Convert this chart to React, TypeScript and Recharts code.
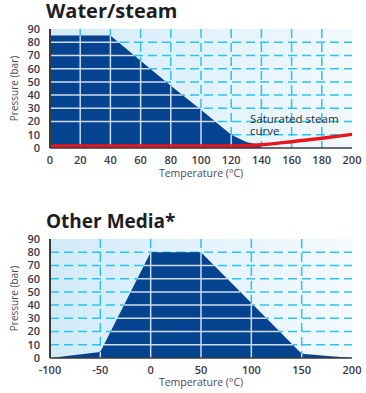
import { ComposedChart, Area, Line, XAxis, YAxis, CartesianGrid, ReferenceLine } from 'recharts'

// Water/steam limit (dark area) and saturated steam curve
const waterTemp = [0, 40, 60, 80, 100, 120, 130, 140]
const waterPressure = [85, 85, 66, 47, 29, 10, 4.5, 2]
const steamTemp = [0, 20, 40, 60, 80, 100, 120, 130, 140, 150, 160, 170, 180, 190, 200]
const steamPressure = [1.5, 1.5, 1.5, 1.5, 1.5, 1.5, 1.5, 1.8, 2.5, 3.5, 4.8, 6, 7.3, 8.8, 10.3]
const waterXTicks = [0, 20, 40, 60, 80, 100, 120, 140, 160, 180, 200]
const waterGridX = [20, 40, 60, 80, 100, 120, 140, 160, 180]

// Other media limit
const mediaTemp = [-100, -50, 0, 50, 150, 200]
const mediaPressure = [0, 4.5, 80, 80, 3.3, 0]
const mediaXTicks = [-100, -50, 0, 50, 100, 150, 200]
const mediaGridX = [-50, 0, 50, 100, 150]

const yTicks = [0, 10, 20, 30, 40, 50, 60, 70, 80, 90]
const gridY = [10, 20, 30, 40, 50, 60, 70, 80]

const DARK = '#03438f'
const CYAN = '#2cc3f0'
const INNER = '#d0dbe9'
const FONT = '"Open Sans", sans-serif'

const toRows = (xs: number[], ys: number[]) => xs.map((t, i) => ({ t, p: ys[i] }))

const valueAt = (xs: number[], ys: number[], x: number) => {
  for (let i = 0; i < xs.length - 1; i++) {
    if (x >= xs[i] && x <= xs[i + 1]) {
      const f = (x - xs[i]) / (xs[i + 1] - xs[i])
      return ys[i] + f * (ys[i + 1] - ys[i])
    }
  }
  return 0
}

// x range where the dark area is above level y
const spanAt = (xs: number[], ys: number[], y: number) => {
  const hits: number[] = []
  if (ys[0] > y) hits.push(xs[0])
  for (let i = 0; i < xs.length - 1; i++) {
    const a = ys[i], b = ys[i + 1]
    if ((a - y) * (b - y) < 0) hits.push(xs[i] + ((y - a) / (b - a)) * (xs[i + 1] - xs[i]))
  }
  if (ys[ys.length - 1] > y) hits.push(xs[xs.length - 1])
  return hits.length >= 2 ? [hits[0], hits[hits.length - 1]] : null
}

const tickStyle = { fontSize: 11, fontWeight: 600, fill: '#3b3645', fontFamily: FONT }
const axisLabelStyle = { fontSize: 10.5, fill: '#4a4a55', fontFamily: FONT }

function innerGrid(xs: number[], ys: number[], gx: number[], key: string) {
  const lines: any[] = []
  gx.forEach(v => {
    const top = valueAt(xs, ys, v)
    if (top > 0.5)
      lines.push(
        <ReferenceLine key={key + 'v' + v} segment={[{ x: v, y: 0 }, { x: v, y: top }]} stroke={INNER} strokeWidth={1.5} ifOverflow="visible" />
      )
  })
  gridY.forEach(h => {
    const s = spanAt(xs, ys, h)
    if (s)
      lines.push(
        <ReferenceLine key={key + 'h' + h} segment={[{ x: s[0], y: h }, { x: s[1], y: h }]} stroke={INNER} strokeWidth={1.5} ifOverflow="visible" />
      )
  })
  return lines
}

function Title({ text, top, size }: { text: string; top: number; size: number }) {
  return (
    <div style={{ position: 'absolute', left: 46, top, fontFamily: FONT, fontWeight: 700, fontSize: size, color: '#1e1e22', lineHeight: '22px' }}>
      {text}
    </div>
  )
}

export default function App() {
  return (
    <div style={{ position: 'absolute', left: 0, top: 0, width: 366, height: 393, background: '#fff', overflow: 'hidden' }}>
      <Title text="Water/steam" top={0} size={20} />
      <div style={{ position: 'absolute', left: 0, top: 0 }}>
        <ComposedChart width={366} height={190} margin={{ top: 29, right: 14, left: 0, bottom: 13 }}>
          <defs>
            <linearGradient id="bgTop" x1="0" y1="0" x2="1" y2="0">
              <stop offset="0%" stopColor="#d2ebf9" />
              <stop offset="100%" stopColor="#f2f9fd" />
            </linearGradient>
          </defs>
          <CartesianGrid fill="url(#bgTop)" stroke={CYAN} strokeWidth={1.5} strokeDasharray="9 5" horizontalValues={gridY} verticalValues={waterGridX} />
          <XAxis type="number" dataKey="t" domain={[0, 200]} ticks={waterXTicks} interval={0} tickLine={false} axisLine={{ stroke: '#3a3a3a', strokeWidth: 1.5 }} tick={tickStyle} tickMargin={2} height={29}
            label={{ value: 'Temperature (°C)', position: 'insideBottom', offset: 0, style: axisLabelStyle }} />
          <YAxis type="number" domain={[0, 90]} ticks={yTicks} interval={0} tickLine={false} axisLine={{ stroke: '#3a3a3a', strokeWidth: 2 }} tick={tickStyle} tickMargin={4} width={50}
            label={{ value: 'Pressure (bar)', angle: -90, position: 'insideLeft', offset: 14, style: { ...axisLabelStyle, textAnchor: 'middle', fontSize: 10 } }} />
          <Area data={toRows(waterTemp, waterPressure)} dataKey="p" type="linear" fill={DARK} fillOpacity={1} stroke="none" isAnimationActive={false} />
          {innerGrid(waterTemp, waterPressure, waterGridX, 'w')}
          <Line data={toRows(steamTemp, steamPressure)} dataKey="p" type="monotone" stroke="#e8151c" strokeWidth={3.5} dot={false} isAnimationActive={false} />
        </ComposedChart>
      </div>
      <div style={{ position: 'absolute', left: 250, top: 113, fontFamily: FONT, fontSize: 11.5, color: '#2b2b35', lineHeight: '12px' }}>
        Saturated steam<br />curve
      </div>

      <Title text="Other Media*" top={210} size={19} />
      <div style={{ position: 'absolute', left: 0, top: 190 }}>
        <ComposedChart width={366} height={203} margin={{ top: 49, right: 14, left: 0, bottom: 7 }}>
          <defs>
            <linearGradient id="bgBottom" x1="0" y1="0" x2="1" y2="0">
              <stop offset="0%" stopColor="#d2ebf9" />
              <stop offset="100%" stopColor="#f4fafe" />
            </linearGradient>
          </defs>
          <CartesianGrid fill="url(#bgBottom)" stroke={CYAN} strokeWidth={1.5} strokeDasharray="9 5" horizontalValues={gridY} verticalValues={mediaGridX} />
          <XAxis type="number" dataKey="t" domain={[-100, 200]} ticks={mediaXTicks} interval={0} tickLine={false} axisLine={{ stroke: '#3a3a3a', strokeWidth: 1.5 }} tick={tickStyle} tickMargin={2} height={28}
            label={{ value: 'Temperature (°C)', position: 'insideBottom', offset: 0, style: axisLabelStyle }} />
          <YAxis type="number" domain={[0, 90]} ticks={yTicks} interval={0} tickLine={false} axisLine={{ stroke: '#3a3a3a', strokeWidth: 2 }} tick={tickStyle} tickMargin={4} width={50}
            label={{ value: 'Pressure (bar)', angle: -90, position: 'insideLeft', offset: 14, style: { ...axisLabelStyle, textAnchor: 'middle', fontSize: 10 } }} />
          <Area data={toRows(mediaTemp, mediaPressure)} dataKey="p" type="linear" fill={DARK} fillOpacity={1} stroke="none" isAnimationActive={false} />
          {innerGrid(mediaTemp, mediaPressure, mediaGridX, 'm')}
        </ComposedChart>
      </div>
    </div>
  )
}
